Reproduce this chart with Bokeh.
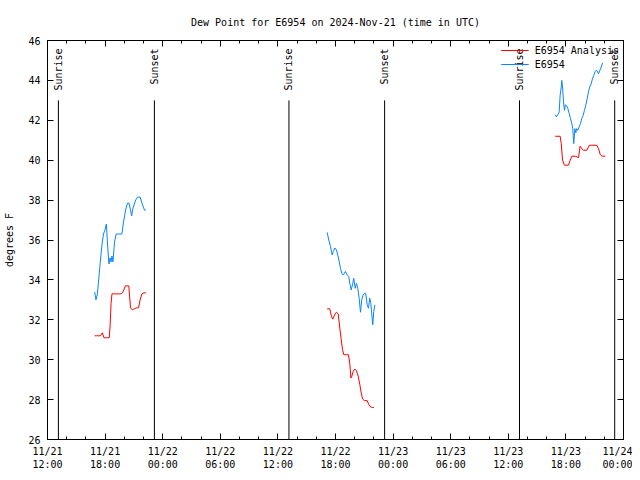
import pandas as pd
from math import pi
from bokeh.plotting import figure
from bokeh.models import (Range1d, FixedTicker, DatetimeTickFormatter, LinearAxis,
                          DatetimeAxis, Legend, LegendItem, ColumnDataSource)
from bokeh.core.properties import value
from bokeh.embed import file_html
from bokeh.resources import INLINE

TITLE = "Dew Point for E6954 on 2024-Nov-21 (time in UTC)"
Y_LABEL = "degrees F"
STATION = "E6954"

# ---- observed dew point (E6954), one list per afternoon ----
obs1_time = ["16:55", "17:03", "17:12", "17:22", "17:31", "17:41", "17:50", "17:59", "18:08", "18:15",
             "18:24", "18:31", "18:37", "18:43", "18:49", "18:59", "19:09", "19:24", "19:45", "19:55",
             "20:08", "20:20", "20:29", "20:39", "20:46", "20:54", "21:11", "21:23", "21:39", "21:48",
             "21:57", "22:06", "22:15"]
obs1_dew = [33.4, 33.0, 33.3, 34.2, 35.0, 35.8, 36.3, 36.5, 36.8, 35.8,
            34.8, 35.1, 34.9, 35.2, 34.9, 35.9, 36.3, 36.3, 36.3, 36.9,
            37.5, 37.85, 37.85, 37.5, 37.2, 37.6, 38.0, 38.15, 38.15, 37.9,
            37.7, 37.5, 37.5]

obs2_time = ["17:08", "17:18", "17:29", "17:39", "17:46", "17:56", "18:06", "18:14", "18:21", "18:31",
             "18:42", "18:52", "19:02", "19:13", "19:23", "19:29", "19:38", "19:46", "19:54", "20:03",
             "20:11", "20:19", "20:28", "20:36", "20:44", "20:53", "21:01", "21:09", "21:18", "21:26",
             "21:34", "21:41", "21:47", "21:53", "21:59", "22:06"]
obs2_dew = [36.38, 36.0, 35.67, 35.25, 35.42, 35.6, 35.5, 35.25, 35.0, 34.58,
            34.28, 34.28, 34.42, 34.25, 34.17, 33.83, 33.5, 33.75, 34.08, 33.58,
            33.83, 33.58, 33.08, 32.38, 33.0, 33.25, 33.33, 33.33, 32.75, 32.58,
            33.08, 32.83, 32.25, 31.75, 32.42, 32.75]

obs3_time = ["16:53", "17:01", "17:09", "17:18", "17:24", "17:31", "17:34", "17:39", "17:45", "17:51",
             "17:57", "18:06", "18:12", "18:21", "18:29", "18:37", "18:43", "18:49", "18:56", "19:02",
             "19:08", "19:14", "19:23", "19:31", "19:39", "19:48", "19:56", "20:04", "20:13", "20:21",
             "20:29", "20:38", "20:46", "20:54", "21:03", "21:13", "21:24", "21:32", "21:41", "21:49"]
obs3_dew = [42.28, 42.17, 42.28, 42.42, 43.25, 43.67, 44.0, 43.67, 42.92, 42.5,
            42.78, 42.7, 42.6, 42.33, 42.08, 41.83, 41.58, 40.83, 41.58, 41.38,
            41.58, 41.5, 41.67, 41.83, 42.08, 42.25, 42.5, 42.75, 43.08, 43.42,
            43.67, 43.83, 44.08, 44.25, 44.45, 44.5, 44.33, 44.5, 44.67, 44.88]

# ---- analysis dew point (E6954 Analysis) ----
ana1_time = ["16:55", "17:06", "17:19", "17:31", "17:43", "17:53", "18:03", "18:15", "18:26", "18:32",
             "18:37", "18:43", "18:53", "19:11", "19:30", "19:41", "19:52", "20:07", "20:17", "20:28",
             "20:39", "20:50", "21:04", "21:16", "21:29", "21:39", "21:50", "22:03", "22:15"]
ana1_dew = [31.2, 31.2, 31.2, 31.2, 31.35, 31.1, 31.1, 31.1, 31.1, 31.8,
            32.8, 33.3, 33.3, 33.3, 33.3, 33.3, 33.4, 33.7, 33.7, 33.7,
            32.6, 32.5, 32.55, 32.6, 32.6, 33.0, 33.3, 33.35, 33.35]

ana2_time = ["17:08", "17:24", "17:35", "17:43", "17:54", "18:06", "18:17", "18:27", "18:36", "18:44",
             "18:52", "19:09", "19:21", "19:29", "19:36", "19:42", "19:51", "20:01", "20:11", "20:22",
             "20:32", "20:41", "20:49", "21:01", "21:18", "21:28", "21:39", "21:53", "22:00"]
ana2_dew = [32.55, 32.55, 32.17, 32.03, 32.25, 32.38, 32.3, 31.58, 31.0, 30.5,
            30.25, 30.25, 30.25, 29.83, 29.08, 29.17, 29.42, 29.53, 29.45, 29.17,
            28.75, 28.33, 28.03, 27.95, 27.95, 27.75, 27.63, 27.6, 27.6]

ana3_time = ["16:53", "17:24", "17:31", "17:39", "17:51", "18:16", "18:27", "18:37", "18:58", "19:19",
             "19:29", "19:39", "19:50", "20:11", "20:26", "20:42", "21:13", "21:24", "21:34", "21:44",
             "22:06"]
ana3_dew = [41.2, 41.2, 40.83, 40.0, 39.75, 39.75, 40.0, 40.2, 40.2, 40.13,
            40.7, 40.58, 40.5, 40.5, 40.75, 40.75, 40.75, 40.58, 40.3, 40.2,
            40.2]

days = ["2024-11-21", "2024-11-22", "2024-11-23"]

sun_times = ["2024-11-21 13:08", "2024-11-21 23:08", "2024-11-22 13:09",
             "2024-11-22 23:07", "2024-11-23 13:10", "2024-11-23 23:05"]
sun_labels = ["Sunrise", "Sunset", "Sunrise", "Sunset", "Sunrise", "Sunset"]

x_start, x_end = "2024-11-21 12:00", "2024-11-24 00:00"
y_min, y_max = 26, 46
y_ticks = list(range(26, 47, 2))

FONT = "DejaVu Sans Mono"
RED = "#ff0000"
BLUE = "#0a84ff"


def to_dt(day, times):
    return pd.to_datetime([f"{day} {t}" for t in times])


def ms(ts):
    return (pd.DatetimeIndex(ts) - pd.Timestamp("1970-01-01")) // pd.Timedelta("1ms")


p = figure(width=632, height=472, output_backend="svg", toolbar_location=None,
           x_axis_type="datetime",
           x_range=Range1d(pd.Timestamp(x_start), pd.Timestamp(x_end)),
           y_range=Range1d(y_min, y_max),
           min_border_left=47, min_border_right=9, min_border_top=40, min_border_bottom=32)

p.title.text = TITLE
p.title.align = "center"
p.title.text_font = FONT
p.title.text_font_size = "10px"
p.title.text_font_style = "normal"
p.title.text_color = "black"
p.title.standoff = 25

p.xgrid.visible = False
p.ygrid.visible = False
p.outline_line_color = "black"
p.outline_line_width = 1
p.background_fill_color = "white"
p.border_fill_color = "white"

major = pd.date_range(x_start, x_end, freq="6h")
minor = pd.date_range(x_start, x_end, freq="2h")
xticker = FixedTicker(ticks=list(ms(major)), minor_ticks=list(ms(minor)))
fmt = "%m/%d\n%H:%M"
xfmt = DatetimeTickFormatter(hours=fmt, days=fmt, hourmin=fmt, minutes=fmt, months=fmt)
yticker = FixedTicker(ticks=y_ticks)


def style_axis(ax, labels=True):
    ax.axis_line_color = "black"
    ax.major_tick_in = 6
    ax.major_tick_out = 0
    ax.minor_tick_in = 3
    ax.minor_tick_out = 0
    ax.major_tick_line_color = "black"
    ax.minor_tick_line_color = "black"
    ax.major_label_text_font = FONT
    if labels:
        ax.major_label_text_font_size = "10px"
        ax.major_label_text_color = "black"
        ax.major_label_standoff = 6
    else:
        ax.major_label_text_font_size = "1px"
        ax.major_label_text_color = None
        ax.major_label_standoff = 0


xa = p.xaxis[0]
xa.ticker = xticker
xa.formatter = xfmt
style_axis(xa)
ya = p.yaxis[0]
ya.ticker = yticker
style_axis(ya)
ya.minor_tick_in = 0
ya.major_label_standoff = 7
ya.axis_label = Y_LABEL
ya.axis_label_text_font = FONT
ya.axis_label_text_font_size = "10px"
ya.axis_label_text_font_style = "normal"
ya.axis_label_text_color = "black"
ya.axis_label_standoff = 10

top = DatetimeAxis(ticker=xticker, formatter=xfmt)
style_axis(top, labels=False)
p.add_layout(top, "above")
right = LinearAxis(ticker=yticker)
style_axis(right, labels=False)
right.minor_tick_in = 0
p.add_layout(right, "right")

# sunrise / sunset markers
sun_src = ColumnDataSource(dict(x=pd.to_datetime(sun_times), label=sun_labels,
                                y0=[y_min] * len(sun_times), y1=[43.0] * len(sun_times),
                                ty=[45.6] * len(sun_times)))
p.segment(x0="x", y0="y0", x1="x", y1="y1", source=sun_src, line_color="black", line_width=1)
p.text(x="x", y="ty", text="label", source=sun_src, angle=pi / 2, text_align="right",
       text_baseline="middle", text_font=value(FONT), text_font_size="10px", text_color="black")

red_r, blue_r = [], []
for day, t, v in zip(days, [ana1_time, ana2_time, ana3_time], [ana1_dew, ana2_dew, ana3_dew]):
    red_r.append(p.line(to_dt(day, t), v, line_color=RED, line_width=1))
for day, t, v in zip(days, [obs1_time, obs2_time, obs3_time], [obs1_dew, obs2_dew, obs3_dew]):
    blue_r.append(p.line(to_dt(day, t), v, line_color=BLUE, line_width=1))

legend = Legend(items=[LegendItem(label=f"{STATION} Analysis", renderers=[red_r[0]]),
                       LegendItem(label=STATION, renderers=[blue_r[0]])],
                location="top_right")
legend.label_text_font = FONT
legend.label_text_font_size = "10px"
legend.label_text_color = "black"
legend.border_line_color = None
legend.background_fill_alpha = 0
legend.glyph_width = 28
legend.glyph_height = 12
legend.label_height = 12
legend.spacing = 2
legend.padding = 2
legend.margin = 4
legend.label_standoff = 6
p.add_layout(legend)

open("out.html", "w").write(file_html(p, INLINE))
